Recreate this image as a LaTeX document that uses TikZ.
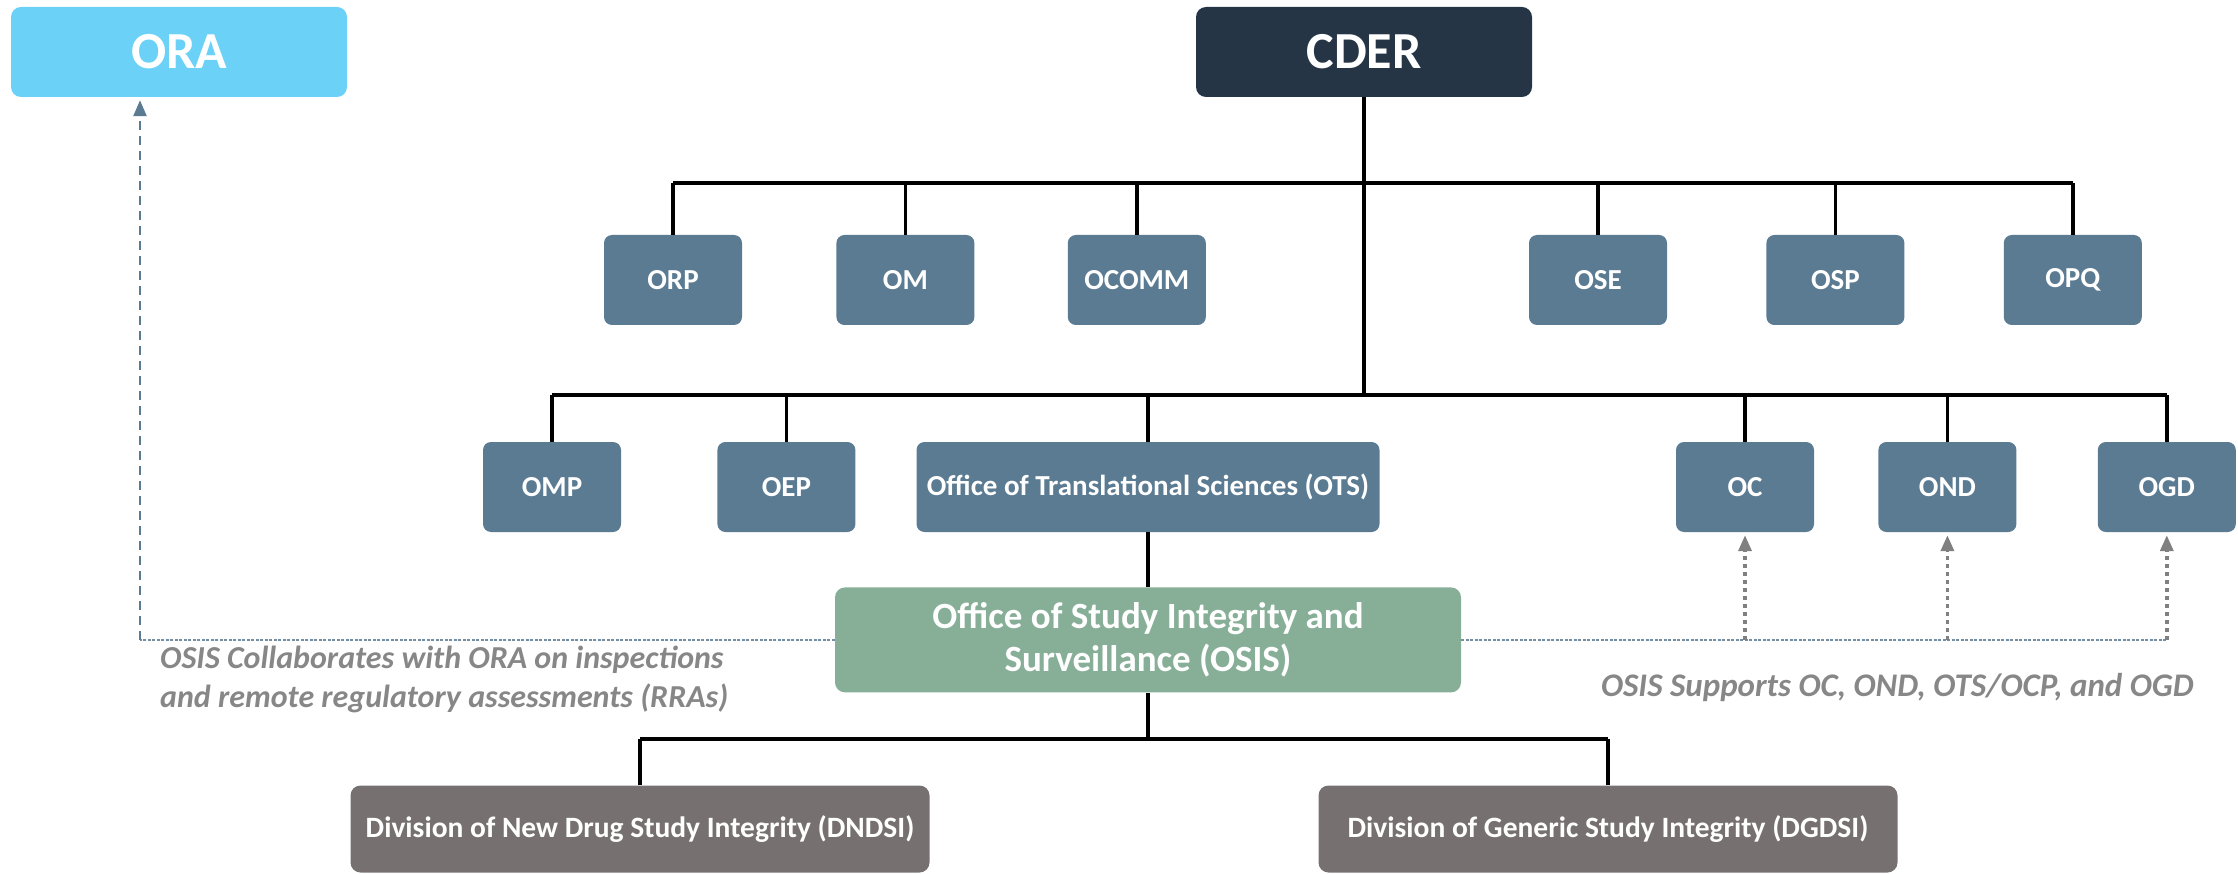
\documentclass[tikz,border=0pt]{standalone}
\usepackage{fontspec}
\setmainfont{Carlito}
\usetikzlibrary{arrows.meta,positioning,calc}
\definecolor{orgSky}{HTML}{6CD1F7}
\definecolor{orgNavy}{HTML}{253546}
\definecolor{orgSlate}{HTML}{5B7B93}
\definecolor{orgSage}{HTML}{87AF98}
\definecolor{orgTaupe}{HTML}{767170}
\definecolor{orgNote}{HTML}{878787}
\definecolor{orgDot}{HTML}{808080}
\tikzset{
  % Top level box (ORA / CDER)
  topbox/.style={rectangle,rounded corners=10pt,
    minimum width=336pt,minimum height=90pt,inner sep=0pt,
    align=center,font=\fontsize{52}{60}\selectfont\bfseries,text=white},
  % Office box (slate)
  obox/.style={rectangle,rounded corners=8pt,
    minimum width=138pt,minimum height=90pt,inner sep=0pt,
    align=center,fill=orgSlate,
    font=\fontsize{29}{34}\selectfont\bfseries,text=white},
  % OSIS box (sage)
  osisbox/.style={rectangle,rounded corners=10pt,
    minimum width=626pt,minimum height=105pt,inner sep=0pt,
    align=center,fill=orgSage,
    font=\fontsize{37}{43}\selectfont\bfseries,text=white},
  % Division box (taupe)
  divbox/.style={rectangle,rounded corners=10pt,
    minimum width=579pt,minimum height=87pt,inner sep=0pt,
    align=center,fill=orgTaupe,
    font=\fontsize{29.5}{34}\selectfont\bfseries,text=white},
  % Connectors
  tree/.style={line width=3.5pt,color=black},
  collab/.style={-{Triangle[length=16pt,width=13pt]},shorten >=3pt,
    line width=2.5pt,dash pattern=on 9pt off 6pt,color=orgSlate},
  link/.style={line width=1.5pt,dash pattern=on 3pt off 1.5pt,color=orgSlate!85},
  supp/.style={-{Triangle[length=16pt,width=13pt]},shorten >=3pt,
    line width=3.5pt,dash pattern=on 4pt off 4pt,color=orgDot},
  note/.style={font=\fontsize{32}{38.5}\selectfont\bfseries\itshape,
    text=orgNote,align=left,inner sep=0pt},
}
\begin{document}
\begin{tikzpicture}[x=1pt,y=-1pt]
  \useasboundingbox (0,0) rectangle (2238,874);

  % Top level
  \node[topbox,fill=orgSky] (ora) at (179,52) {ORA};
  \node[topbox,fill=orgNavy] (cder) at (1364,52) {CDER};

  % First row of offices
  \node[obox] (orp) at (673,280) {ORP};
  \node[obox,right=94pt of orp] (om) {OM};
  \node[obox,right=93pt of om] (ocomm) {OCOMM};
  \node[obox] (ose) at (1598,280) {OSE};
  \node[obox,right=99pt of ose] (osp) {OSP};
  \node[obox,right=99pt of osp] (opq) {OPQ};

  % Second row of offices
  \node[obox] (omp) at (552,487) {OMP};
  \node[obox,right=96pt of omp] (oep) {OEP};
  \node[obox,minimum width=463pt] (ots) at (1148,487)
    {Office of Translational Sciences (OTS)};
  \node[obox] (oc) at (1745,487) {OC};
  \node[obox,right=64pt of oc] (ond) {OND};
  \node[obox,right=81pt of ond] (ogd) {OGD};

  % OSIS and its divisions
  \node[osisbox,below=55pt of ots] (osis)
    {Office of Study Integrity and\\Surveillance (OSIS)};
  \node[divbox] (dndsi) at (640,829)
    {Division of New Drug Study Integrity (DNDSI)};
  \node[divbox] (dgdsi) at (1608,829)
    {Division of Generic Study Integrity (DGDSI)};

  % Bus heights
  \coordinate (b1) at (0,183);
  \coordinate (b2) at (0,395);
  \coordinate (b3) at (0,739);

  % Tree lines
  \draw[tree] (cder.south) -- (cder.south |- b2);
  \draw[tree] (orp.north |- b1) -- (opq.north |- b1);
  \foreach \n in {orp,om,ocomm,ose,osp,opq}
    \draw[tree] (\n.north) -- (\n.north |- b1);
  \draw[tree] (omp.north |- b2) -- (ogd.north |- b2);
  \foreach \n in {omp,oep,ots,oc,ond,ogd}
    \draw[tree] (\n.north) -- (\n.north |- b2);
  \draw[tree] (ots.south) -- (osis.north);
  \draw[tree] (osis.south) -- (osis.south |- b3);
  \draw[tree] (dndsi.north |- b3) -- (dgdsi.north |- b3);
  \draw[tree] (dndsi.north) -- (dndsi.north |- b3);
  \draw[tree] (dgdsi.north) -- (dgdsi.north |- b3);

  % OSIS to ORA
  \coordinate (ca) at (140,0 |- osis.west);
  \draw[link] (osis.west) -- (ca);
  \draw[collab] (ca) -- (ca |- ora.south);
  \node[note,anchor=north west] (collabtxt) at (160,646)
    {OSIS Collaborates with ORA on inspections\\and remote regulatory assessments (RRAs)};

  % OSIS supports
  \draw[link] (osis.east) -- (ogd.south |- osis.east);
  \foreach \n in {oc,ond,ogd}
    \draw[supp] (\n.south |- osis.east) -- (\n.south);
  \node[note,anchor=east,font=\fontsize{33}{38.5}\selectfont\bfseries\itshape]
    (supptxt) at (2194,688) {OSIS Supports OC, OND, OTS/OCP, and OGD};
\end{tikzpicture}
\end{document}
